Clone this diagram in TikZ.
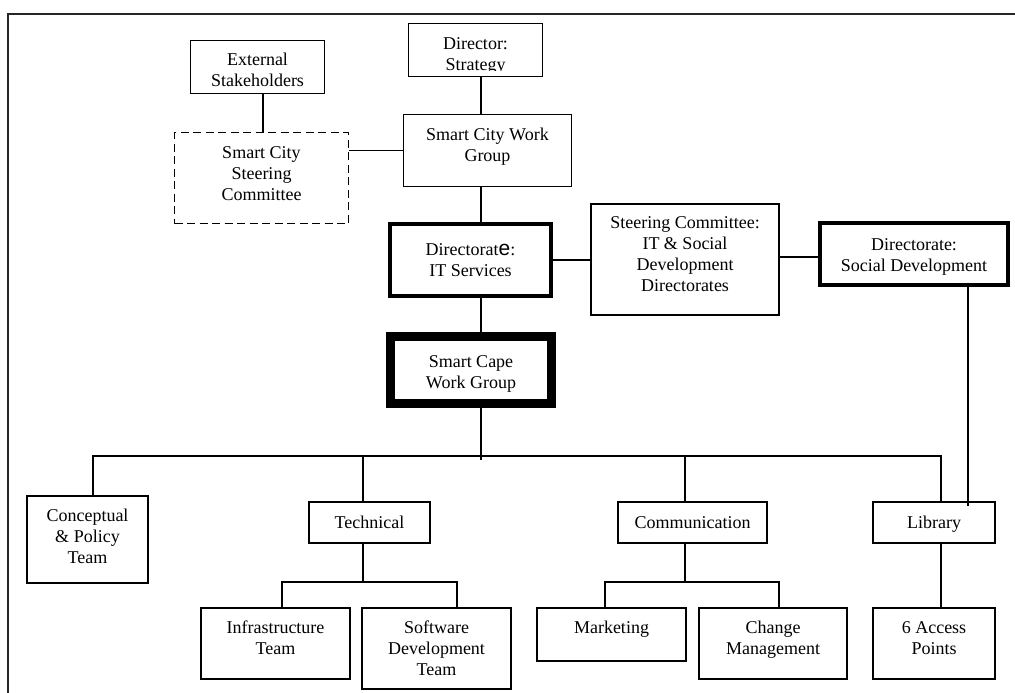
\documentclass[tikz,border=0pt]{standalone}
\usepackage{fontspec}
\setmainfont{Liberation Serif}
\newfontfamily\sanse{Liberation Sans}
\newcommand{\bxt}[4]{\parbox[c][#2pt][t]{#1pt}{\centering\rule{0pt}{#3pt}#4}}
\begin{document}
\begin{tikzpicture}[x=1pt,y=-1pt,
  base/.style={inner sep=0pt,font=\fontsize{18}{21}\selectfont},
  box/.style={base,draw,line width=1.3pt},
  dbox/.style={base,draw,line width=1.8pt,dash pattern=on 8pt off 4.5pt},
  tbox/.style={base,draw,line width=4pt},
  xbox/.style={base,draw,line width=9pt},
  wire/.style={line width=1.3pt},
  frame/.style={line width=2pt,draw=black!85}]
\useasboundingbox (0,0) rectangle (1015,693);
\draw[frame] (1015,14) -- (8,14) -- (8,693);

% top part
\node[box] (ext) at (257.5,67) {\bxt{134}{53}{25.5}{External\\Stakeholders}};
\node[box] (dir) at (475.5,50) {\bxt{134}{53}{25.5}{}};
\begin{scope}
  \clip (409,24) rectangle (542,70.5);
  \node[base] (dirtext) at (dir) {\bxt{134}{53}{26}{Director:\\Strategy}};
\end{scope}
\node[box] (scwg) at (487.5,150.5) {\bxt{168}{72}{25.5}{Smart City Work\\Group}};
\node[dbox] (stc) at (261.5,178) {\bxt{174}{91}{25.5}{Smart City\\Steering\\Committee}};
\node[tbox] (it) at (470.5,260) {\bxt{161}{72}{31}{Directorat{\sanse\fontsize{21}{21}\selectfont e}:\\IT Services}};
\node[box] (sc2) at (685,259.5) {\bxt{188}{111}{24.5}{Steering Committee:\\IT \& Social\\Development\\Directorates}};
\node[tbox] (soc) at (914,254) {\bxt{188}{62}{27}{Directorate:\\Social Development}};
\node[xbox] (scape) at (471,370) {\bxt{161}{67}{30.8}{Smart Cape\\Work Group}};

% lower part
\node[box] (cpt) at (87.5,539.5) {\bxt{121}{87}{25.7}{Conceptual\\\& Policy\\Team}};
\node[box] (tech) at (369.5,522.5) {\bxt{121}{41}{26}{Technical}};
\node[box] (comm) at (692.5,522.5) {\bxt{149}{41}{26}{Communication}};
\node[box] (lib) at (934,522.5) {\bxt{122}{41}{26}{Library}};
\node[box] (infra) at (275.5,643.5) {\bxt{149}{71}{25.5}{Infrastructure\\Team}};
\node[box] (sw) at (436.5,648.5) {\bxt{149}{81}{25.5}{Software\\Development\\Team}};
\node[box] (mkt) at (611.5,634.5) {\bxt{149}{53}{25.5}{Marketing}};
\node[box] (chg) at (773,643.5) {\bxt{148}{71}{25.5}{Change\\Management}};
\node[box] (acc) at (934,643.5) {\bxt{122}{71}{25.5}{6 Access\\Points}};

% connectors
\coordinate (spine) at (481,0);
\coordinate (ex) at (263,0);
\coordinate (sy) at (0,257);
\draw[wire] (ext.south -| ex) -- (stc.north -| ex);
\draw[wire] (stc.east |- scwg.west) -- (scwg.west);
\draw[wire] (dir.south -| spine) -- (scwg.north -| spine);
\draw[wire] (scwg.south -| spine) -- (it.north -| spine);
\draw[wire] (it.east) -- (it.east -| sc2.west);
\draw[wire] (sc2.east |- sy) -- (soc.west |- sy);
\draw[wire] (it.south -| spine) -- (scape.north -| spine);
\coordinate (busmid) at (481,460);
\draw[wire] (scape.south -| spine) -- (busmid);
\coordinate (b1) at (93,456);
\coordinate (b2) at (363,456);
\coordinate (b3) at (685,456);
\coordinate (b4) at (941,456);
\draw[wire] (cpt.north -| b1) -- (b1) -- (b4) -- (lib.north -| b4);
\draw[wire] (b2) -- (tech.north -| b2);
\draw[wire] (b3) -- (comm.north -| b3);
\coordinate (t1) at (282,582);
\coordinate (t2) at (457,582);
\draw[wire] (tech.south -| b2) -- (t1 -| b2);
\draw[wire] (infra.north -| t1) -- (t1) -- (t2) -- (sw.north -| t2);
\coordinate (c1) at (605,582);
\coordinate (c2) at (779,582);
\draw[wire] (comm.south -| b3) -- (c1 -| b3);
\draw[wire] (mkt.north -| c1) -- (c1) -- (c2) -- (chg.north -| c2);
\draw[wire] (lib.south -| b4) -- (acc.north -| b4);
\coordinate (libin) at (968,506);
\draw[wire] (soc.south -| libin) -- (libin);
\end{tikzpicture}
\end{document}
